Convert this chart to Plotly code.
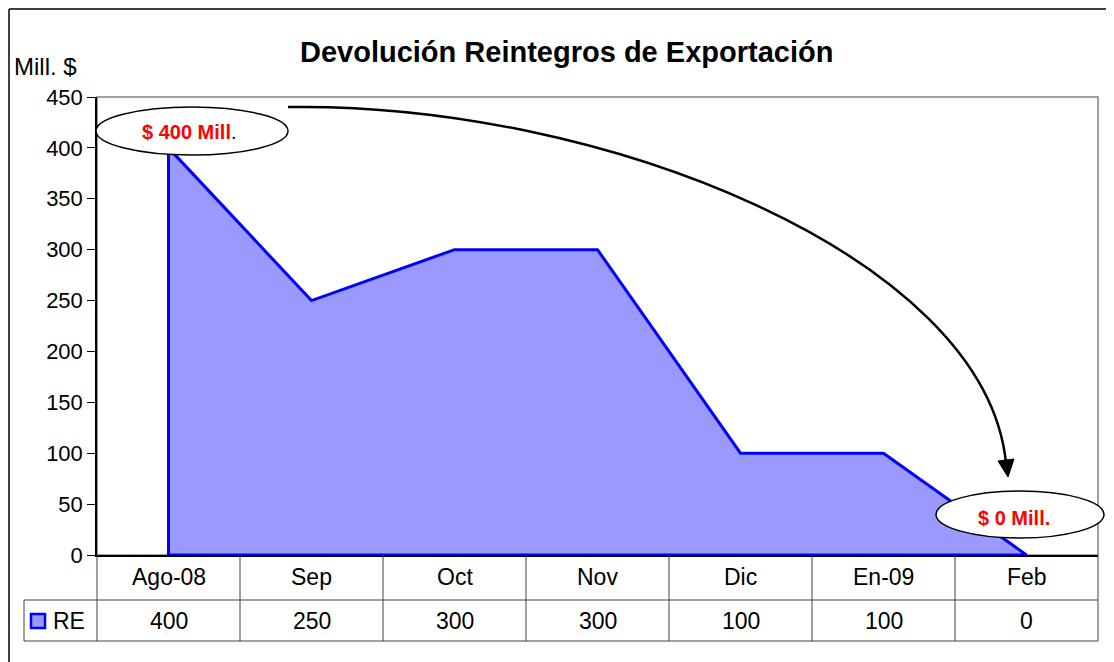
import plotly.graph_objects as go

categories = ["Ago-08", "Sep", "Oct", "Nov", "Dic", "En-09", "Feb"]
re_values = [400, 250, 300, 300, 100, 100, 0]
y_ticks = [0, 50, 100, 150, 200, 250, 300, 350, 400, 450]
series_name = "RE"
title_text = "Devolución Reintegros de Exportación"
y_unit = "Mill. $"

OFF = 8  # default page body margin
W, H = 1114 - OFF, 662 - OFF
L, R, T, B = 97, 1098, 97, 555  # plot area in page pixels
FONT = "Arial, Liberation Sans, sans-serif"


def px(x):
    return (x - L) / (R - L)


def py(y):
    return (B - y) / (B - T)


idx = list(range(len(categories)))
xs = [idx[0]] + idx + [idx[-1], idx[0]]
ys = [0] + re_values + [0, 0]

fig = go.Figure()
fig.add_trace(go.Scatter(
    x=xs, y=ys, mode="lines", fill="toself", fillcolor="#9999FF",
    line=dict(color="#0000FF", width=3), hoverinfo="skip", showlegend=False,
    name=series_name,
))

shapes = []
# outer chart frame (left/top visible)
shapes.append(dict(type="line", xref="paper", yref="paper", x0=px(9), x1=px(1200), y0=py(9), y1=py(9),
                   line=dict(color="black", width=1.5)))
shapes.append(dict(type="line", xref="paper", yref="paper", x0=px(9), x1=px(9), y0=py(9), y1=py(700),
                   line=dict(color="black", width=1.5)))
# plot area border (gray)
shapes.append(dict(type="rect", xref="paper", yref="paper", x0=0, x1=1, y0=0, y1=1,
                   line=dict(color="#808080", width=1.5), layer="below"))

# data table grid
grid = dict(color="#404040", width=1)
row1_top, row1_bot, row2_bot = 555, 600, 641
shapes.append(dict(type="line", xref="paper", yref="paper", x0=px(24), x1=1, y0=py(row1_bot), y1=py(row1_bot), line=grid))
shapes.append(dict(type="line", xref="paper", yref="paper", x0=px(24), x1=1, y0=py(row2_bot), y1=py(row2_bot), line=grid))
shapes.append(dict(type="line", xref="paper", yref="paper", x0=px(24), x1=px(24), y0=py(row1_bot), y1=py(row2_bot), line=grid))
shapes.append(dict(type="line", xref="paper", yref="paper", x0=0, x1=0, y0=py(row1_top), y1=py(row2_bot), line=grid))
for i in idx:
    xb = (i + 1) / len(categories)
    shapes.append(dict(type="line", xref="paper", yref="paper", x0=xb, x1=xb, y0=py(row1_top), y1=py(row2_bot), line=grid))

# legend key
shapes.append(dict(type="rect", xref="paper", yref="paper", x0=px(31), x1=px(45), y0=py(628), y1=py(614),
                   fillcolor="#9999FF", line=dict(color="#0000FF", width=2.5)))

# ellipses
shapes.append(dict(type="circle", xref="paper", yref="paper", x0=px(96), x1=px(288), y0=py(155), y1=py(107),
                   fillcolor="white", line=dict(color="black", width=1.5), layer="above"))
shapes.append(dict(type="circle", xref="paper", yref="paper", x0=px(936), x1=px(1104), y0=py(538), y1=py(491),
                   fillcolor="white", line=dict(color="black", width=1.5), layer="above"))

# curved arrow
p0, p1, p2, p3 = (288, 107), (600, 102), (985, 255), (1006, 463)
path = "M {} {} C {} {} {} {} {} {}".format(
    px(p0[0]), py(p0[1]), px(p1[0]), py(p1[1]), px(p2[0]), py(p2[1]), px(p3[0]), py(p3[1]))
shapes.append(dict(type="path", xref="paper", yref="paper", path=path,
                   line=dict(color="black", width=2.5), layer="above"))
tri = "M {} {} L {} {} L {} {} Z".format(px(1008), py(477), px(998), py(461), px(1014), py(459))
shapes.append(dict(type="path", xref="paper", yref="paper", path=tri, fillcolor="black",
                   line=dict(color="black", width=1), layer="above"))

annotations = []
annotations.append(dict(text="<b>" + title_text + "</b>", xref="paper", yref="paper", x=px(566), y=py(52),
                        showarrow=False, font=dict(family=FONT, size=29, color="black"), xanchor="center", yanchor="middle"))
annotations.append(dict(text=y_unit, xref="paper", yref="paper", x=px(12), y=py(66),
                        showarrow=False, font=dict(family=FONT, size=24, color="black"), xanchor="left", yanchor="middle"))
for i, c in enumerate(categories):
    annotations.append(dict(text=c, xref="x", yref="paper", x=i, y=py(577), showarrow=False,
                            font=dict(family=FONT, size=23, color="black"), xanchor="center", yanchor="middle"))
    annotations.append(dict(text=str(re_values[i]), xref="x", yref="paper", x=i, y=py(621), showarrow=False,
                            font=dict(family=FONT, size=23, color="black"), xanchor="center", yanchor="middle"))
annotations.append(dict(text=series_name, xref="paper", yref="paper", x=px(51), y=py(621), showarrow=False,
                        font=dict(family=FONT, size=23, color="black"), xanchor="left", yanchor="middle"))
annotations.append(dict(text="<b>$ " + str(max(re_values)) + " Mill</b><span style='color:black'>.</span>",
                        xref="paper", yref="paper", x=px(189), y=py(132),
                        showarrow=False, font=dict(family=FONT, size=20, color="red"), xanchor="center", yanchor="middle"))
annotations.append(dict(text="<b>$ " + str(re_values[-1]) + " Mill.</b>", xref="paper", yref="paper", x=px(1014), y=py(518),
                        showarrow=False, font=dict(family=FONT, size=20, color="red"), xanchor="center", yanchor="middle"))

fig.update_layout(
    width=W, height=H,
    margin=dict(l=L - OFF, r=(W + OFF) - R, t=T - OFF, b=(H + OFF) - B, pad=0),
    paper_bgcolor="white", plot_bgcolor="white",
    shapes=shapes, annotations=annotations,
    showlegend=False,
    xaxis=dict(range=[-0.5, len(categories) - 0.5], showgrid=False, zeroline=False, showticklabels=False,
               showline=True, linecolor="black", linewidth=1.5, ticks="", fixedrange=True),
    yaxis=dict(range=[0, 450], tickvals=y_ticks, showgrid=False, zeroline=False,
               showline=True, linecolor="black", linewidth=1.5, ticks="outside", ticklen=8, tickcolor="black",
               tickfont=dict(family=FONT, size=22, color="black"), fixedrange=True),
)

fig.write_html("out.html")
